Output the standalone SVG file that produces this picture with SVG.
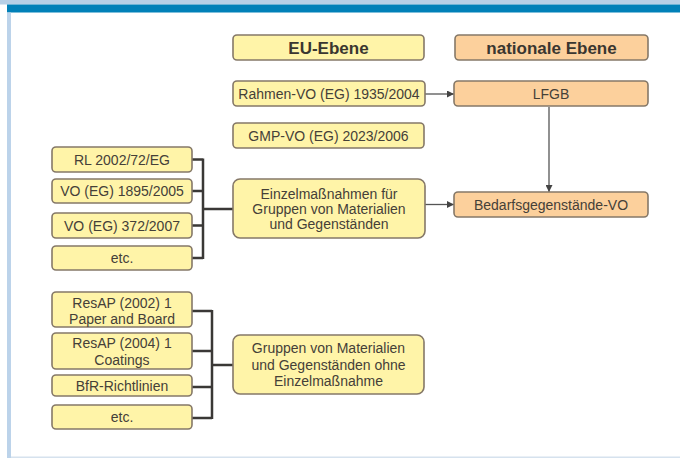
<svg xmlns="http://www.w3.org/2000/svg" width="680" height="458" viewBox="0 0 680 458">
<style>
.y{fill:#fff4a8;stroke:#857868;stroke-width:1.6}
.o{fill:#fcd09c;stroke:#857868;stroke-width:1.6}
text{font-family:"Liberation Sans",Arial,sans-serif;font-size:14px;fill:#454038;text-anchor:middle}
.h{font-weight:bold;font-size:17px;fill:#3a3630}
.br{fill:none;stroke:#3a3836;stroke-width:2.5}
.ar{fill:none;stroke:#555;stroke-width:1.3}
</style>
<defs>
<marker id="ah" viewBox="0 0 10 10" refX="10" refY="5" markerWidth="7" markerHeight="7" orient="auto" markerUnits="userSpaceOnUse">
<path d="M0,0 L10,5 L0,10 z" fill="#444"/>
</marker>
</defs>
<rect x="0" y="0" width="680" height="458" fill="#fff"/>
<rect x="0" y="0" width="680" height="4.5" fill="#b6cfe6"/>
<rect x="7" y="4.5" width="673" height="8" fill="#0080b8"/>
<rect x="7" y="12.5" width="4" height="445.5" fill="#bcd3ea"/>
<rect x="11" y="456.5" width="669" height="1.5" fill="#d6e2ee"/>

<g id="connectors">
<path class="br" d="M192,159.5 H203 M192,191 H203 M192,225.5 H203 M192,258 H203 M203,158.5 V259 M203,209 H233"/>
<path class="br" d="M192,311 H212 M192,351 H212 M192,387 H212 M192,418 H212 M212,310 V419 M212,365 H233"/>
<line class="ar" x1="425" y1="94" x2="454" y2="94" marker-end="url(#ah)"/>
<line class="ar" x1="425" y1="204.5" x2="454" y2="204.5" marker-end="url(#ah)"/>
<line class="ar" x1="549" y1="107" x2="549" y2="192" marker-end="url(#ah)"/>
</g>

<g id="eu-ebene"><rect class="y" x="233" y="35" width="191" height="25" rx="4"/><text class="h" x="328.5" y="53.5">EU-Ebene</text></g>
<g id="nationale-ebene"><rect class="o" x="455" y="35" width="193" height="25" rx="4"/><text class="h" x="551.5" y="53.5">nationale Ebene</text></g>
<g id="rahmen-vo"><rect class="y" x="233" y="81" width="192" height="25" rx="4"/><text x="329" y="98.5">Rahmen-VO (EG) 1935/2004</text></g>
<g id="gmp-vo"><rect class="y" x="233" y="123" width="191" height="25" rx="4"/><text x="328.5" y="140.5">GMP-VO (EG) 2023/2006</text></g>
<g id="lfgb"><rect class="o" x="454" y="81" width="194" height="25" rx="4"/><text x="551" y="98.5">LFGB</text></g>
<g id="bedarfs-vo"><rect class="o" x="454" y="192" width="194" height="25" rx="4"/><text x="551" y="209.5">Bedarfsgegenstände-VO</text></g>
<g id="einzelmassnahmen"><rect class="y" x="233" y="179" width="192" height="59" rx="7"/><text x="329" y="198.5">Einzelmaßnahmen für</text><text x="329" y="213.5">Gruppen von Materialien</text><text x="329" y="228.5">und Gegenständen</text></g>
<g id="rl-2002"><rect class="y" x="52" y="147" width="140" height="25" rx="4"/><text x="122" y="164.5">RL 2002/72/EG</text></g>
<g id="vo-1895"><rect class="y" x="52" y="179" width="140" height="24" rx="4"/><text x="122" y="196">VO (EG) 1895/2005</text></g>
<g id="vo-372"><rect class="y" x="52" y="213" width="140" height="25" rx="4"/><text x="122" y="230.5">VO (EG) 372/2007</text></g>
<g id="etc-1"><rect class="y" x="52" y="246" width="140" height="24" rx="4"/><text x="122" y="263">etc.</text></g>
<g id="resap-2002"><rect class="y" x="52" y="292" width="140" height="35" rx="4"/><text x="122" y="308">ResAP (2002) 1</text><text x="122" y="323.5">Paper and Board</text></g>
<g id="resap-2004"><rect class="y" x="52" y="333" width="140" height="36" rx="4"/><text x="122" y="348">ResAP (2004) 1</text><text x="122" y="364.5">Coatings</text></g>
<g id="bfr"><rect class="y" x="52" y="375" width="140" height="21" rx="4"/><text x="122" y="391">BfR-Richtlinien</text></g>
<g id="etc-2"><rect class="y" x="52" y="405" width="140" height="24" rx="4"/><text x="122" y="422">etc.</text></g>
<g id="gruppen-ohne"><rect class="y" x="233" y="335" width="191" height="59" rx="7"/><text x="328.5" y="353">Gruppen von Materialien</text><text x="328.5" y="369.5">und Gegenständen ohne</text><text x="328.5" y="386">Einzelmaßnahme</text></g>
</svg>
